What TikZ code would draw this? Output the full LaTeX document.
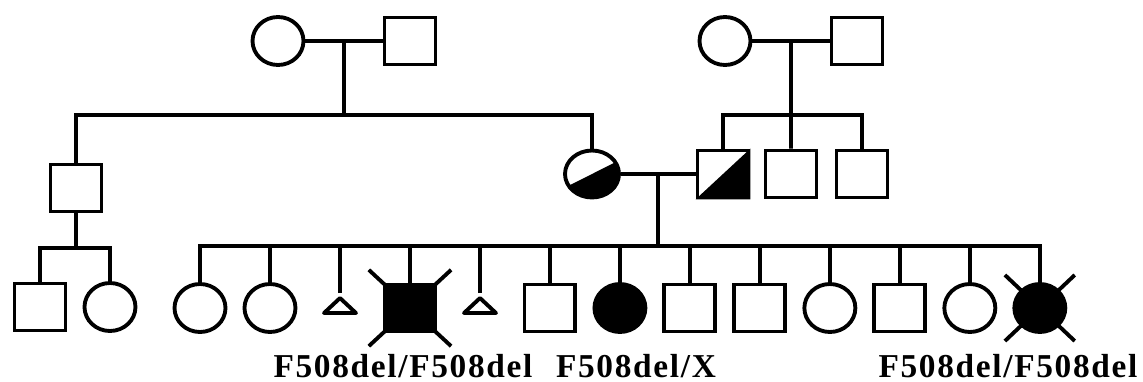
\documentclass[tikz,border=0pt]{standalone}
\usepackage{fontspec}
\newfontfamily\gtfont[LetterSpace=5]{Liberation Serif}
\usetikzlibrary{positioning, calc, shapes.geometric}

\begin{document}
\begin{tikzpicture}[
        x=0.02cm, y=-0.02cm,
        line width=2.2pt,
        node distance=1.4cm, on grid,
        every node/.style={inner sep=0pt},
        male/.style={rectangle, draw, minimum width=1.02cm, minimum height=0.94cm},
        female/.style={ellipse, draw, minimum width=1.02cm, minimum height=0.96cm},
        affmale/.style={male, fill=black},
        afffemale/.style={female, fill=black},
        miscarriage/.style={isosceles triangle, isosceles triangle stretches, shape border rotate=90, draw, minimum width=0.64cm, minimum height=0.3cm, line join=round},
        gtype/.style={font=\gtfont\bfseries\fontsize{19}{20}\selectfont, anchor=base}
    ]
    \useasboundingbox (0,0) rectangle (1143,382);

    % --- generation I ---
    \node[female] (gm1) at (278,41) {};
    \node[male, right=2.64cm of gm1] (gf1) {};
    \node[female] (gm2) at (725,41) {};
    \node[male, right=2.64cm of gm2] (gf2) {};

    % --- generation II ---
    \node[male] (u1) at (76,188) {};
    \node[female, minimum width=1.08cm, minimum height=0.94cm] (mo) at (592,174) {};
    \node[male] (fa) at (723,174) {};
    \node[male, right=1.36cm of fa] (b1) {};
    \node[male, right=1.42cm of b1] (b2) {};

    % half shading (carriers)
    \fill ($(mo.center)+(30:0.54cm and 0.47cm)$) arc[start angle=30, end angle=-150, x radius=0.54cm, y radius=0.47cm] -- cycle;
    \fill (fa.south west) -- (fa.north east) -- (fa.south east) -- cycle;

    % --- generation III ---
    \node[male] (c1) at (40,307) {};
    \node[female, right=of c1] (c2) {};

    \node[female] (k1) at (200,308) {};
    \node[female, right=of k1] (k2) {};
    \node[miscarriage, anchor=apex] (k3) at (340,293) {};
    \node[affmale, right=2.8cm of k2] (k4) {};
    \node[miscarriage, anchor=apex] (k5) at (480,293) {};
    \node[male, right=2.8cm of k4] (k6) {};
    \node[afffemale, right=of k6] (k7) {};
    \node[male, right=of k7] (k8) {};
    \node[male, right=of k8] (k9) {};
    \node[female, right=of k9] (k10) {};
    \node[male, right=of k10] (k11) {};
    \node[female, right=of k11] (k12) {};
    \node[afffemale, right=of k12] (k13) {};

    % deceased marks
    \draw ($(k4.north west)!-0.25!(k4.south east)$) -- ($(k4.south east)!-0.25!(k4.north west)$);
    \draw ($(k4.north east)!-0.25!(k4.south west)$) -- ($(k4.south west)!-0.25!(k4.north east)$);
    \draw ($(k13.north west)!-0.4!(k13.south east)$) -- ($(k13.south east)!-0.4!(k13.north west)$);
    \draw ($(k13.north east)!-0.4!(k13.south west)$) -- ($(k13.south west)!-0.4!(k13.north east)$);

    % genotypes
    \node[gtype] (g1) at (403,377) {F508del/F508del};
    \node[gtype] (g2) at (636,377) {F508del/X};
    \node[gtype] (g3) at (1008,377) {F508del/F508del};

    % --- lines of descent ---
    \draw (gm1) -- (gf1);
    \coordinate (m1) at ($(gm1.east)!0.5!(gf1.west)$);
    \coordinate (s1) at ($(m1)+(0,74)$);
    \draw (m1) -- (s1);
    \draw (u1.north) |- (s1) -| (mo.north);

    \draw (gm2) -- (gf2);
    \coordinate (m2) at ($(gm2.east)!0.5!(gf2.west)$);
    \draw (m2) -- (b1.north);
    \draw (fa.north) |- (b1.north |- s1) -| (b2.north);

    \coordinate (s4) at ($(u1.south)+(0,35)$);
    \draw (u1.south) -- (s4);
    \draw (c1.north) |- (s4) -| (c2.north);

    \draw (mo) -- (fa);
    \coordinate (m3) at ($(mo.east)!0.5!(fa.west)$);
    \coordinate (s3) at ($(m3)+(0,72)$);
    \draw (m3) -- (s3);
    \draw (k1.north) |- (s3) -| (k13.north);
    \foreach \k in {k2, k4, k6, k7, k8, k9, k10, k11, k12}
        \draw (\k.north) -- (\k.north |- s3);
    \foreach \k in {k3, k5}
        \draw (\k.apex) -- (\k.apex |- s3);

\end{tikzpicture}
\end{document}
